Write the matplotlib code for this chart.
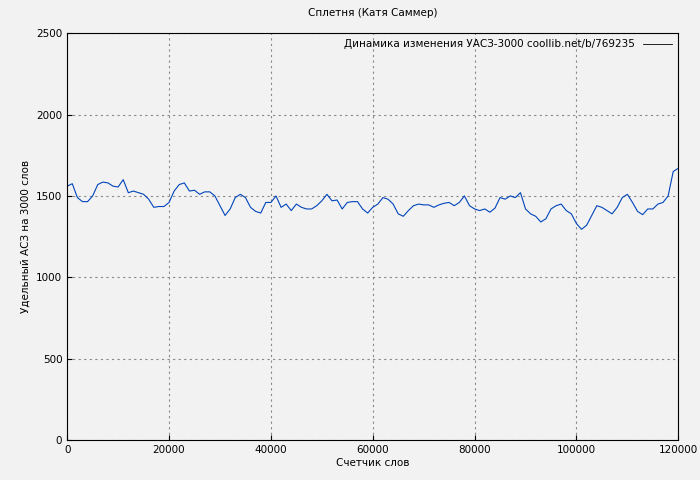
import matplotlib
matplotlib.use("Agg")
import matplotlib.pyplot as plt

words = list(range(0, 121000, 1000))
values = [1560,1575,1490,1465,1465,1500,1570,1585,1580,1560,1555,1600,1520,1530,1520,1510,1480,1430,1435,1435,
          1460,1530,1570,1580,1530,1535,1510,1525,1525,1500,1440,1380,1420,1490,1510,1490,1430,1405,1395,1460,
          1460,1500,1430,1450,1410,1450,1430,1420,1420,1440,1470,1510,1470,1475,1420,1460,1465,1465,1420,1395,
          1430,1450,1490,1480,1450,1390,1375,1410,1440,1450,1445,1445,1430,1445,1455,1460,1440,1460,1500,1440,
          1420,1410,1420,1400,1425,1490,1480,1500,1490,1520,1420,1390,1375,1340,1360,1420,1440,1450,1410,1390,
          1330,1295,1320,1380,1440,1430,1410,1390,1430,1490,1510,1460,1405,1385,1420,1420,1450,1460,1500,1650,1670]

fig = plt.figure(figsize=(7, 4.8), dpi=100)
fig.patch.set_facecolor('#f2f2f2')
ax = fig.add_axes([0.096, 0.083, 0.873, 0.848])
ax.set_facecolor('#f2f2f2')
ax.plot(words, values, color='#0044bb', lw=0.8, label='Динамика изменения УАСЗ-3000 coollib.net/b/769235')
ax.set_xlim(0, 120000)
ax.set_ylim(0, 2500)
ax.set_xticks(range(0, 120001, 20000))
ax.set_yticks(range(0, 2501, 500))
ax.grid(True, color='#888888', ls=(0, (2, 3)), lw=0.8)
ax.tick_params(labelsize=7.5, direction='in')
ax.set_title('Сплетня (Катя Саммер)', fontsize=7.5, pad=12)
ax.set_xlabel('Счетчик слов', fontsize=7.5, labelpad=2)
ax.set_ylabel('Удельный АСЗ на 3000 слов', fontsize=7.5)
leg = ax.legend(loc='upper right', fontsize=7.5, frameon=False, markerfirst=False, handlelength=2.8, borderaxespad=0.2)
leg.get_lines()[0].set_color('black')
leg.get_lines()[0].set_linewidth(0.6)
fig.savefig('out.png')
